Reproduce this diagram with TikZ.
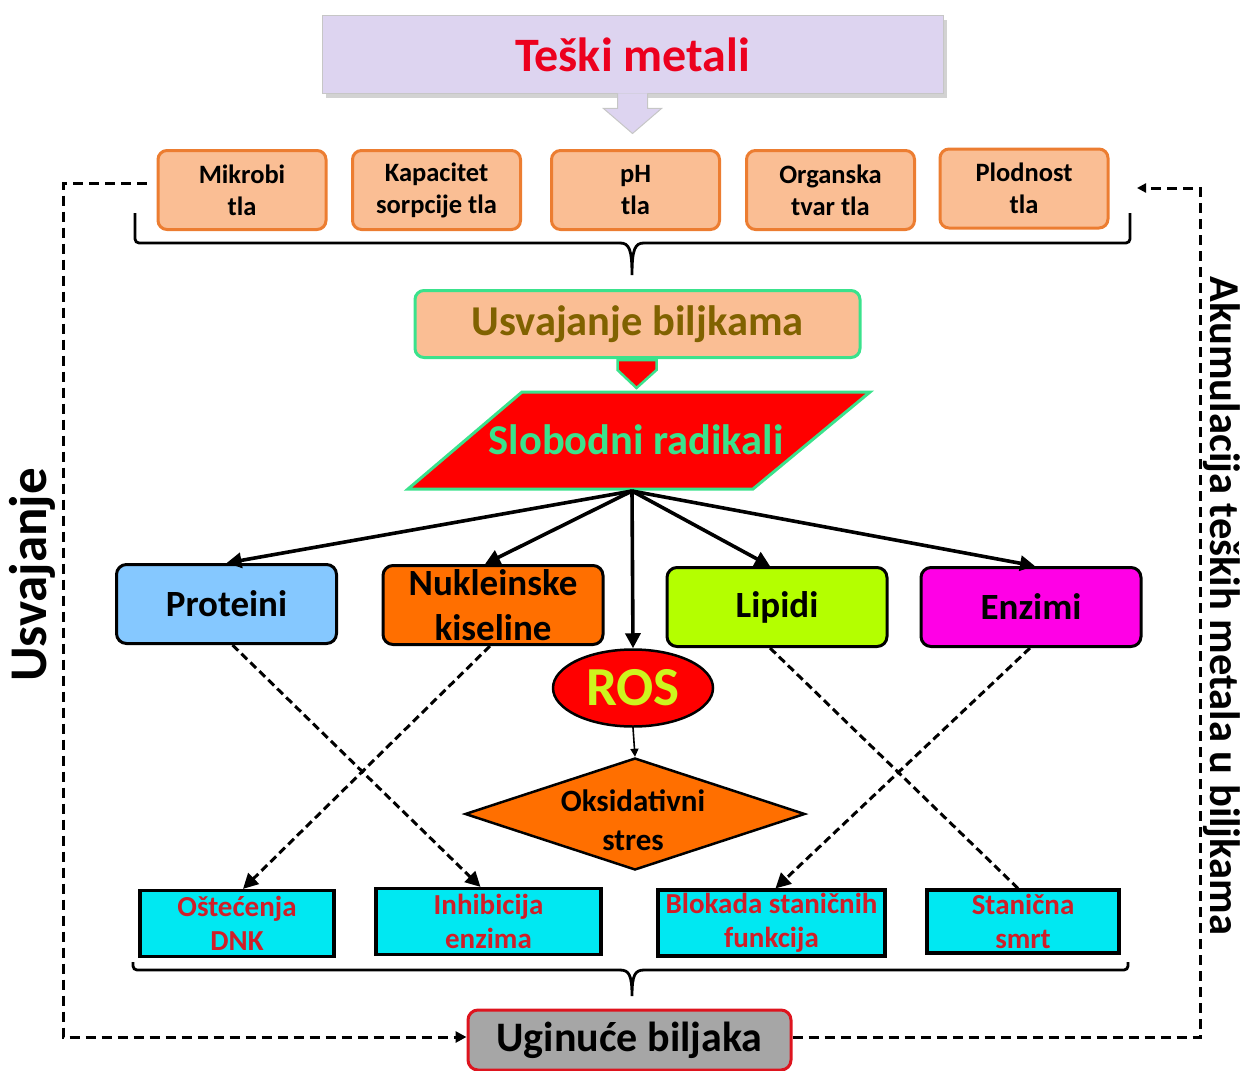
\documentclass[tikz,border=0pt]{standalone}
\usepackage{fontspec}
\setmainfont{Carlito}
\usetikzlibrary{arrows.meta,shapes.geometric,calc}
\definecolor{lav}{RGB}{221,212,240}
\definecolor{peach}{RGB}{250,190,148}
\definecolor{peachdark}{RGB}{236,125,49}
\definecolor{mint}{RGB}{58,226,140}
\definecolor{olive}{RGB}{128,98,0}
\definecolor{titlered}{RGB}{236,0,30}
\definecolor{skyb}{RGB}{133,200,255}
\definecolor{orng}{RGB}{255,111,0}
\definecolor{limeb}{RGB}{180,255,0}
\definecolor{magen}{RGB}{255,0,230}
\definecolor{rosyel}{RGB}{205,245,30}
\definecolor{cyanb}{RGB}{0,232,242}
\definecolor{crim}{RGB}{208,30,40}
\definecolor{grayb}{RGB}{166,166,166}
\definecolor{redb}{RGB}{222,20,30}
\begin{document}
\begin{tikzpicture}[x=1pt,y=-1pt,
  topbox/.style={draw=peachdark, fill=peach, line width=3pt, rounded corners=9pt,
    minimum width=168pt, minimum height=79pt, align=center, inner sep=0pt,
    font=\fontsize{26.5}{32}\selectfont\bfseries},
  midbox/.style={draw=black, line width=3pt, rounded corners=10pt,
    minimum width=220pt, minimum height=79pt, align=center, inner sep=0pt,
    font=\fontsize{37}{45}\selectfont\bfseries},
  botbox/.style={draw=black, fill=cyanb, line width=3.2pt, minimum height=66pt,
    align=center, inner sep=0pt, text=crim, font=\fontsize{29}{34}\selectfont\bfseries},
  bigarrow/.style={line width=3.6pt, -{Triangle[length=15pt,width=15pt]}},
  dasharrow/.style={line width=3pt, dash pattern=on 8pt off 4.5pt, -{Triangle[length=15pt,width=15pt]}},
  dashline/.style={line width=3pt, dash pattern=on 8pt off 4.5pt},
  loopd/.style={line width=3pt, dash pattern=on 10pt off 6pt},
  bracel/.style={line width=2.8pt},
]
\useasboundingbox (0,0) rectangle (1246,1070);

% Title
\fill[gray!35] (326,20) rectangle (947,98);
\node[draw=gray!45, fill=lav, line width=1pt, minimum width=621pt, minimum height=78pt,
  inner sep=0pt, text=titlered, font=\fontsize{48}{48}\selectfont\bfseries] (teski) at (632.5,55) {Teški metali};
\draw[draw=gray!45, fill=lav, line width=1pt]
  ($(teski.south)+(-15,-1)$) -- ($(teski.south)+(-15,14)$) -- ($(teski.south)+(-29,14)$)
  -- ($(teski.south)+(0,39)$) -- ($(teski.south)+(29,14)$) -- ($(teski.south)+(15,14)$)
  -- ($(teski.south)+(15,-1)$);

% Soil factor boxes
\node[topbox] (mik) at (242,190) {Mikrobi\\tla};
\node[topbox] (kap) at (436.5,190) {Kapacitet\\sorpcije tla};
\node[topbox] (ph) at (635.5,190) {pH\\tla};
\node[topbox] (org) at (830.5,190) {Organska\\tvar tla};
\node[topbox] (plod) at (1024,188.5) {Plodnost\\tla};

% top brace
\coordinate (tbL) at (135,213);
\coordinate (tbR) at (1130,213);
\coordinate (tbM) at (632,243);
\draw[bracel, rounded corners=4pt] (tbL) -- (135,243) -- ($(tbM)+(-12,0)$);
\draw[bracel] ($(tbM)+(-12,0)$) .. controls ($(tbM)+(-3,0)$) and ($(tbM)+(0,6)$) .. ($(tbM)+(0,32)$)
  .. controls ($(tbM)+(0,6)$) and ($(tbM)+(3,0)$) .. ($(tbM)+(12,0)$);
\draw[bracel, rounded corners=4pt] ($(tbM)+(12,0)$) -- (1130,243) -- (tbR);

% Usvajanje biljkama
\node[draw=mint, fill=peach, line width=3pt, rounded corners=9pt, minimum width=445pt,
  minimum height=67pt, inner sep=0pt, text=olive, font=\fontsize{42.5}{42.5}\selectfont\bfseries]
  (usv) at (637.5,324) {Usvajanje biljkama};
\draw[draw=mint, fill=red, line width=2.5pt]
  ($(usv.south)+(-20,1)$) -- ($(usv.south)+(19,1)$) -- ($(usv.south)+(19,11)$)
  -- ($(usv.south)+(-1,29)$) -- ($(usv.south)+(-20,11)$) -- cycle;

% Slobodni radikali parallelogram
\draw[draw=mint, fill=red, line width=3pt] (522,392) -- (870,392) -- (753,489) -- (408,489) -- cycle;
\node[inner sep=0pt, text=mint, font=\fontsize{42.5}{42.5}\selectfont\bfseries] (slob) at (636,440) {Slobodni radikali};
\coordinate (sbot) at (632,491);

% middle boxes
\node[midbox, fill=skyb] (prot) at (226.5,604) {Proteini};
\node[midbox, fill=orng] (nuk) at (493,605) {Nukleinske\\kiseline};
\node[midbox, fill=limeb] (lip) at (777,607) {Lipidi};
\node[midbox, fill=magen] (enz) at (1031,607) {Enzimi};

% ROS and oxidative stress
\node[ellipse, draw=black, fill=red, line width=2.5pt, minimum width=160pt, minimum height=77pt,
  inner sep=0pt, text=rosyel, font=\fontsize{55}{55}\selectfont\bfseries] (ros) at (633,688) {ROS};
\node[diamond, aspect=3, draw=black, fill=orng, line width=2.5pt, minimum width=340pt,
  minimum height=112pt, inner sep=0pt, align=center, font=\fontsize{31}{39}\selectfont\bfseries]
  (oks) at (635,814) {};
\node[inner sep=0pt, align=center, font=\fontsize{31}{39}\selectfont\bfseries] (okst) at (633,820) {Oksidativni\\stres};

% arrows from free radicals
\draw[bigarrow] (sbot) -- (prot.north);
\draw[bigarrow] (sbot) -- ($(nuk.north)+(-8,0)$);
\draw[bigarrow] (sbot) -- (ros.north);
\draw[bigarrow] (sbot) -- ($(lip.north)+(-7,0)$);
\draw[bigarrow] (sbot) -- ($(enz.north)+(4,0)$);
\draw[line width=1.6pt, -{Triangle[length=8pt,width=8pt]}] (ros.south) -- (oks.north);

% bottom effects
\node[botbox, minimum width=194pt] (ost) at (237,923.5) {Oštećenja\\DNK};
\node[botbox, minimum width=225pt] (inh) at (488.5,921.5) {Inhibicija\\enzima};
\node[botbox, minimum width=227pt] (blo) at (771.5,923) {Blokada staničnih\\funkcija};
\node[botbox, minimum width=192pt, minimum height=63pt] (sta) at (1023,921.5) {Stanična\\smrt};

% dashed connectors
\draw[dasharrow] ($(prot.south)+(6,0)$) -- ($(inh.north)+(-8,0)$);
\draw[dasharrow] ($(nuk.south)+(-3,0)$) -- ($(ost.north)+(6,0)$);
\draw[dashline] ($(lip.south)+(-7,0)$) -- ($(sta.north)+(-5,0)$);
\draw[dasharrow] ($(enz.south)+(-1,0)$) -- ($(blo.north)+(4,0)$);

% bottom brace
\coordinate (bbL) at (133,962);
\coordinate (bbR) at (1128,962);
\coordinate (bbM) at (632,970);
\draw[bracel, rounded corners=4pt] (bbL) -- (133,970) -- ($(bbM)+(-12,0)$);
\draw[bracel] ($(bbM)+(-12,0)$) .. controls ($(bbM)+(-3,0)$) and ($(bbM)+(0,5)$) .. ($(bbM)+(0,26)$)
  .. controls ($(bbM)+(0,5)$) and ($(bbM)+(3,0)$) .. ($(bbM)+(12,0)$);
\draw[bracel, rounded corners=4pt] ($(bbM)+(12,0)$) -- (1128,970) -- (bbR);

% plant death
\node[draw=redb, fill=grayb, line width=3pt, rounded corners=10pt, minimum width=323pt,
  minimum height=60pt, inner sep=0pt, font=\fontsize{42}{42}\selectfont\bfseries]
  (ug) at (629.5,1040) {Uginuće biljaka};

% feedback loops
\coordinate (lt) at (63,183);
\coordinate (lb) at (63,1037);
\coordinate (rb) at (1200,1037);
\coordinate (rt) at (1200,188);
\coordinate (rend) at (1137,188);
\draw[loopd] ($(mik.west)+(-10,-7)$) -- (lt) -- (lb) -- ($(ug.west |- lb)+(-10,0)$);
\draw[line width=3pt, -{Triangle[length=11pt,width=11pt]}] ($(ug.west |- lb)+(-12,0)$) -- (ug.west |- lb);
\draw[loopd] (ug.east |- rb) -- (rb) -- (rt) -- ($(rend)+(8,0)$);
\draw[line width=3pt, -{Triangle[length=9pt,width=9pt]}] ($(rend)+(9,0)$) -- (rend);

% side labels
\node[rotate=90, inner sep=0pt, font=\fontsize{53}{53}\selectfont\bfseries] (usvl) at (32,575) {Usvajanje};
\node[rotate=-90, inner sep=0pt, font=\fontsize{42.5}{42.5}\selectfont\bfseries] (akl) at (1222,606) {Akumulacija teških metala u biljkama};
\end{tikzpicture}
\end{document}
